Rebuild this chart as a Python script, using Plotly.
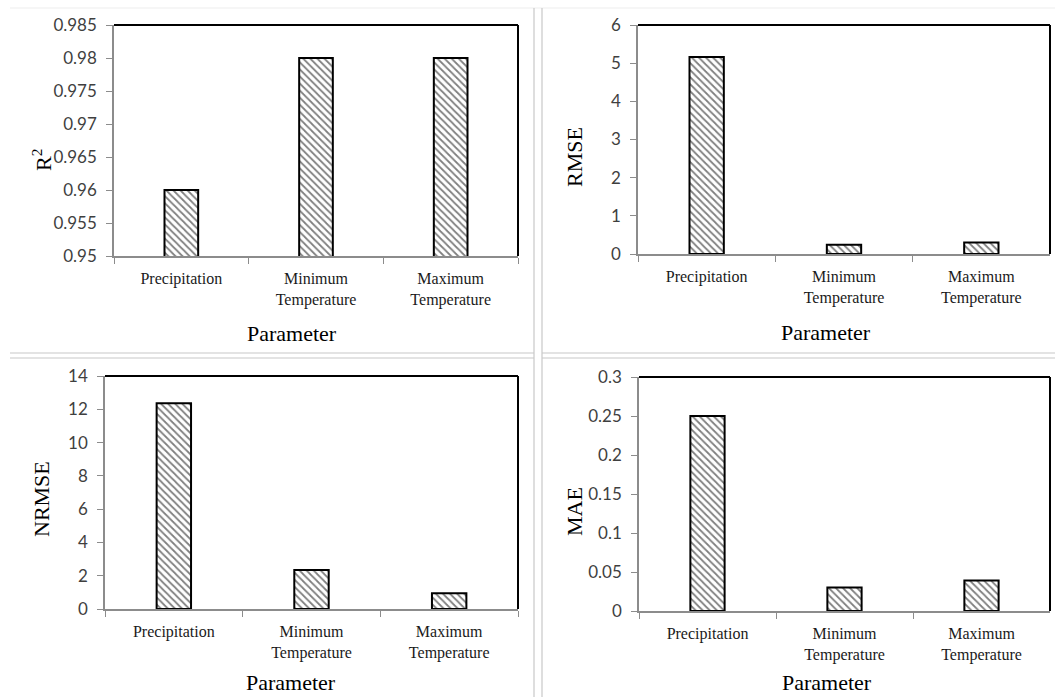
import plotly.graph_objects as go

W, H = 1055, 697

categories = ["Precipitation", "Minimum Temperature", "Maximum Temperature"]
cat_labels = ["Precipitation", "Minimum<br>Temperature", "Maximum<br>Temperature"]

r2_values = [0.96, 0.98, 0.98]
rmse_values = [5.16, 0.24, 0.30]
nrmse_values = [12.36, 2.34, 0.94]
mae_values = [0.25, 0.03, 0.039]

r2_ticks = [0.95, 0.955, 0.96, 0.965, 0.97, 0.975, 0.98, 0.985]
r2_ticktext = ["0.95", "0.955", "0.96", "0.965", "0.97", "0.975", "0.98", "0.985"]
rmse_ticks = [0, 1, 2, 3, 4, 5, 6]
rmse_ticktext = ["0", "1", "2", "3", "4", "5", "6"]
nrmse_ticks = [0, 2, 4, 6, 8, 10, 12, 14]
nrmse_ticktext = ["0", "2", "4", "6", "8", "10", "12", "14"]
mae_ticks = [0, 0.05, 0.1, 0.15, 0.2, 0.25, 0.3]
mae_ticktext = ["0", "0.05", "0.1", "0.15", "0.2", "0.25", "0.3"]

panels = [
    dict(vals=r2_values, rng=[0.95, 0.985], tv=r2_ticks, tt=r2_ticktext,
         xpx=(114, 518), ypx=(25, 256), ytitle="R<sup>2</sup>", ytpos=(42, 160), xtpos=(292, 333)),
    dict(vals=rmse_values, rng=[0, 6], tv=rmse_ticks, tt=rmse_ticktext,
         xpx=(638, 1050), ypx=(25, 254), ytitle="RMSE", ytpos=(575, 157), xtpos=(826, 332)),
    dict(vals=nrmse_values, rng=[0, 14], tv=nrmse_ticks, tt=nrmse_ticktext,
         xpx=(105, 518), ypx=(376, 609), ytitle="NRMSE", ytpos=(41, 499), xtpos=(291, 682)),
    dict(vals=mae_values, rng=[0, 0.3], tv=mae_ticks, tt=mae_ticktext,
         xpx=(639, 1050), ypx=(377, 611), ytitle="MAE", ytpos=(574, 512), xtpos=(827, 682)),
]

fig = go.Figure()
layout = dict(
    width=W, height=H, margin=dict(l=0, r=0, t=0, b=0, pad=0, autoexpand=False),
    paper_bgcolor="white", plot_bgcolor="white", showlegend=False,
)
shapes = []
annotations = []

for i, p in enumerate(panels, start=1):
    xa = "x" if i == 1 else f"x{i}"
    ya = "y" if i == 1 else f"y{i}"
    fig.add_trace(go.Bar(
        x=categories, y=p["vals"], xaxis=xa, yaxis=ya, width=0.25,
        marker=dict(color="white", line=dict(color="black", width=2),
                    pattern=dict(shape="\\", fgcolor="black", bgcolor="white",
                                 size=5, solidity=0.35)),
        hoverinfo="x+y",
    ))
    x0, x1 = p["xpx"]
    y0, y1 = p["ypx"]
    layout["xaxis" if i == 1 else f"xaxis{i}"] = dict(
        domain=[x0 / W, x1 / W], anchor=ya, type="category",
        tickvals=categories, ticktext=cat_labels, tickson="boundaries",
        ticks="outside", ticklen=6, tickcolor="#8c8c8c",
        showline=True, linecolor="#8c8c8c", linewidth=1.5,
        showgrid=False, zeroline=False, ticklabelstandoff=7, automargin=False,
        tickfont=dict(family="Liberation Serif", size=16, color="#1a1a1a"),
        fixedrange=True,
    )
    layout["yaxis" if i == 1 else f"yaxis{i}"] = dict(
        domain=[1 - y1 / H, 1 - y0 / H], anchor=xa, range=p["rng"],
        tickvals=p["tv"], ticktext=p["tt"], ticks="outside", ticklen=6,
        tickcolor="#8c8c8c", showline=True, linecolor="#8c8c8c", linewidth=1.5,
        showgrid=False, zeroline=False, ticklabelstandoff=6, automargin=False,
        tickfont=dict(family="Lato", size=17, color="#3f3f3f"),
        fixedrange=True,
    )
    dref = f"{xa} domain"
    yref = f"{ya} domain"
    shapes.append(dict(type="line", xref=dref, yref=yref, x0=0, x1=1, y0=1, y1=1,
                       line=dict(color="black", width=2)))
    shapes.append(dict(type="line", xref=dref, yref=yref, x0=1, x1=1, y0=0, y1=1,
                       line=dict(color="black", width=2)))
    annotations.append(dict(text=p["ytitle"], xref="paper", yref="paper",
                            x=p["ytpos"][0] / W, y=1 - p["ytpos"][1] / H,
                            xanchor="center", yanchor="middle", textangle=-90,
                            showarrow=False,
                            font=dict(family="Liberation Serif", size=22, color="black")))
    annotations.append(dict(text="Parameter", xref="paper", yref="paper",
                            x=p["xtpos"][0] / W, y=1 - p["xtpos"][1] / H,
                            xanchor="center", yanchor="middle", showarrow=False,
                            font=dict(family="Liberation Serif", size=22, color="black")))

sep = "#c8c8c8"
def pline(xa0, ya0, xa1, ya1, color=sep):
    shapes.append(dict(type="line", xref="paper", yref="paper",
                       x0=xa0 / W, x1=xa1 / W, y0=1 - ya0 / H, y1=1 - ya1 / H,
                       line=dict(color=color, width=1.2)))

pline(10, 8, 1055, 8, "#eeeeee")
pline(534, 8, 534, 697)
pline(542, 8, 542, 697)
pline(10, 353, 534, 353)
pline(542, 353, 1055, 353)
pline(10, 358, 534, 358)
pline(542, 358, 1055, 358)

layout["shapes"] = shapes
layout["annotations"] = annotations
fig.update_layout(**layout)
fig.write_html("out.html", config={"displayModeBar": False},
               post_script="document.body.style.margin='0';document.body.style.overflow='hidden';")
